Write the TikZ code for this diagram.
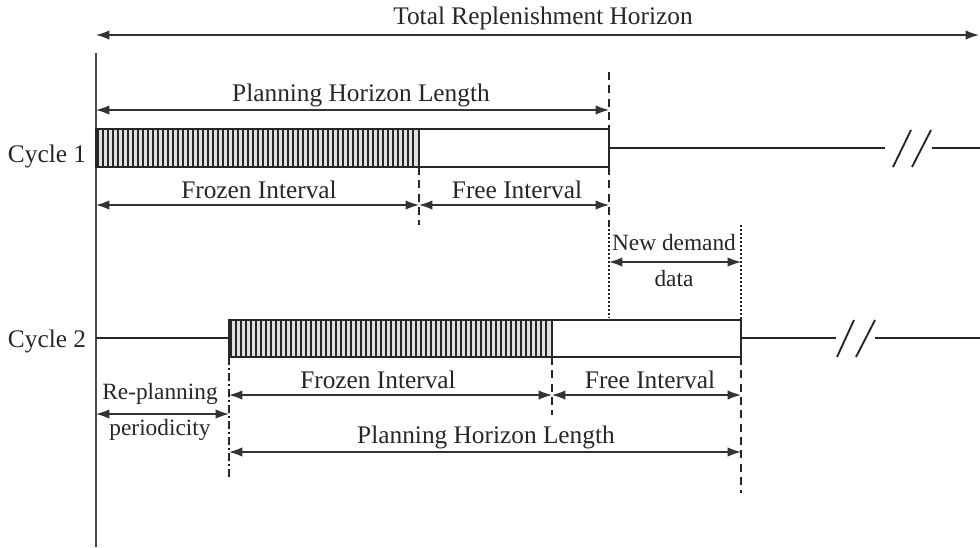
\documentclass[tikz,border=0pt]{standalone}
\usepackage{fontspec}
\setmainfont{Liberation Serif}
\usetikzlibrary{arrows.meta,positioning,calc}

\tikzset{
	dim/.style={{Latex[length=10pt,width=7pt]}-{Latex[length=10pt,width=7pt]},line width=1pt,black!80},
	lbl/.style={font=\fontsize{19}{22}\selectfont,inner sep=1pt,black!85},
	small lbl/.style={lbl,font=\fontsize{17.5}{20}\selectfont},
	bar/.style={line width=1.4pt,black!85},
	cut/.style={dashed,dash pattern=on 6pt off 4pt,line width=1pt,black!85},
	dotcut/.style={dash pattern=on 1.5pt off 1.5pt,line width=1.4pt,black!85},
}

\begin{document}
\begin{tikzpicture}[x=0.75pt,y=-0.75pt]
		\useasboundingbox (0,0) rectangle (980,547);
		% time axis
		\coordinate (axtop) at (96,53);
		\coordinate (axbot) at (96,547);
		\draw[line width=1.6pt,black!70] (axtop)--(axbot);
		% total horizon
		\coordinate (tot-l) at (96,35);
		\coordinate (tot-r) at (979,35);
		\draw[dim] (tot-l)--(tot-r);
		\node[lbl] (total) at (543,18) {Total Replenishment Horizon};
		
		% cycle 1
		\coordinate (a1) at (96,129);
		\coordinate (b1) at (419,167);
		\coordinate (e1) at (609,167);
		\fill[black!12] (a1) rectangle (b1);
		\foreach \x in {98,103,...,416}
			\draw[line width=0.8pt,black!85] (\x,129)--(\x,167);
		\draw[bar] (a1) rectangle (609,167);
		\draw[bar] (419,129)--(b1);
		\coordinate (m1) at (609,148);
		\coordinate (k1) at (885,148);
		\coordinate (k2) at (932,148);
		\coordinate (r1) at (980,148);
		\draw[bar] (m1)--(k1);
		\draw[bar] (k2)--(r1);
		\draw[bar] (893,167)--(911,130);
		\draw[bar] (912,167)--(931,130);
		\node[lbl] (cyc1) at (47,156) {Cycle 1};
		
		\coordinate (p1l) at (96,110);
		\coordinate (p1r) at (609,110);
		\draw[cut] (609,72)--(609,129);
		\draw[cut] (609,167)--(609,225);
		\draw[dotcut] (609,225)--(609,318);
		\draw[dim] (p1l)--(p1r);
		\node[lbl] (phl1) at (361,95) {Planning Horizon Length};
		
		\coordinate (f1l) at (96,205);
		\coordinate (f1m) at (419,205);
		\coordinate (f1r) at (609,205);
		\draw[cut] (b1)--(419,225);
		\draw[dim] (f1l)--(f1m);
		\draw[dim] (f1m)--(f1r);
		\node[lbl] (frz1) at (259,190) {Frozen Interval};
		\node[lbl] (free1) at (517,190) {Free Interval};
		
		% new demand
		\coordinate (nd-l) at (609,262);
		\coordinate (nd-r) at (741,262);
		\draw[dotcut] (741,225)--(741,320);
		\draw[dim] (nd-l)--(nd-r);
		\node[small lbl] (new) at (674,243) {New demand};
		\node[small lbl] (data) at (674,279) {data};
		
		% cycle 2
		\coordinate (a2) at (229,320);
		\coordinate (b2) at (552,357);
		\fill[black!12] (a2) rectangle (b2);
		\foreach \x in {231,236,...,549}
			\draw[line width=0.8pt,black!85] (\x,320)--(\x,357);
		\draw[bar] (a2) rectangle (741,357);
		\draw[bar] (552,320)--(b2);
		\coordinate (s2) at (96,338);
		\coordinate (m2a) at (229,338);
		\coordinate (m2) at (741,338);
		\coordinate (k3) at (836,338);
		\coordinate (k4) at (875,338);
		\coordinate (r2) at (980,338);
		\draw[bar] (s2)--(m2a);
		\draw[bar] (m2)--(k3);
		\draw[bar] (k4)--(r2);
		\draw[bar] (837,357)--(854,320);
		\draw[bar] (856,357)--(875,320);
		\node[lbl] (cyc2) at (47,341) {Cycle 2};
		
		\draw[cut,dash pattern=on 6pt off 2.5pt on 1pt off 2.5pt] (229,357)--(229,480);
		\draw[cut] (b2)--(552,415);
		\draw[cut] (741,357)--(741,493);
		\coordinate (f2l) at (229,395);
		\coordinate (f2m) at (552,395);
		\coordinate (f2r) at (741,395);
		\draw[dim] (f2l)--(f2m);
		\draw[dim] (f2m)--(f2r);
		\node[lbl] (frz2) at (378,380) {Frozen Interval};
		\node[lbl] (free2) at (650,380) {Free Interval};
		
		\coordinate (rp-l) at (96,414);
		\coordinate (rp-r) at (229,414);
		\draw[dim] (rp-l)--(rp-r);
		\node[small lbl] (rp1) at (160,394) {Re-planning};
		\node[small lbl] (rp2) at (160,430) {periodicity};
		
		\coordinate (p2l) at (229,452);
		\coordinate (p2r) at (741,452);
		\draw[dim] (p2l)--(p2r);
		\node[lbl] (phl2) at (486,437) {Planning Horizon Length};
	\end{tikzpicture}
\end{document}
